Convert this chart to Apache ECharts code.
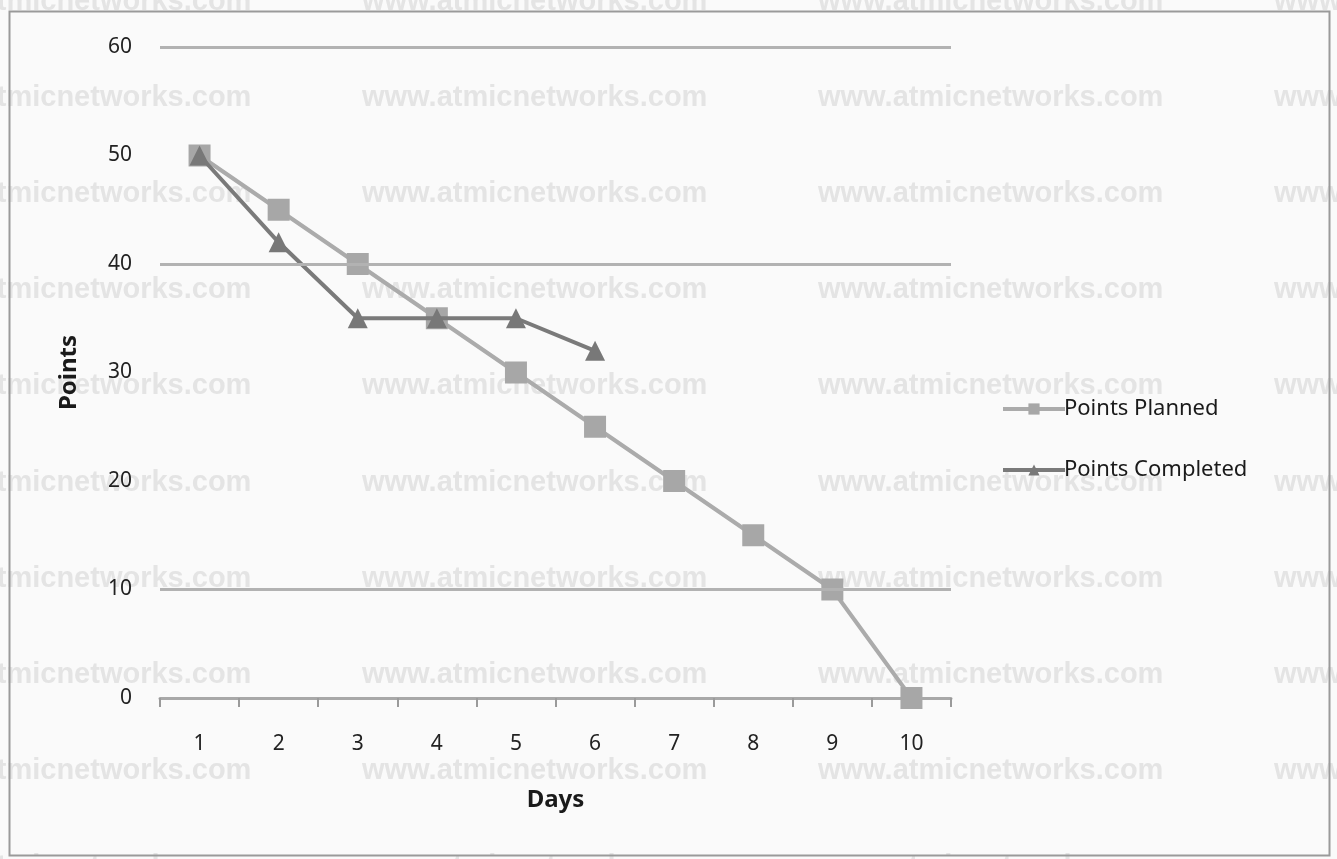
<!DOCTYPE html>
<html>
<head>
<meta charset="utf-8">
<script src="https://cdn.jsdelivr.net/npm/echarts@6/dist/echarts.min.js"></script>
<style>
html,body{margin:0;padding:0;background:#fafafa;}
#chart{width:1337px;height:859px;}
</style>
</head>
<body>
<div id="chart"></div>
<script>
const days = ['1','2','3','4','5','6','7','8','9','10'];
const pointsPlanned = [50, 45, 40, 35, 30, 25, 20, 15, 10, 0];
const pointsCompleted = [50, 42, 35, 35, 35, 32];
const gridValues = [60, 40, 10];
const yTicks = {min: 0, max: 60, interval: 10};
const watermarkText = 'www.atmicnetworks.com';

const chart = echarts.init(document.getElementById('chart'));

const wm = [];
for (let r = 0; r < 10; r++) {
  for (let c = 0; c < 4; c++) {
    wm.push({
      type: 'text', silent: true, z: 0,
      left: -94 + c * 456, top: -13 + r * 96.2,
      style: {text: watermarkText, font: 'bold 29px "Liberation Sans", Arial', fill: '#e4e4e4'}
    });
  }
}
wm.push({
  type: 'rect', silent: true, z: 1,
  shape: {x: 9.5, y: 11.5, width: 1320, height: 844},
  style: {fill: 'none', stroke: '#9a9a9a', lineWidth: 2}
});

const font = '"Noto Sans", "Open Sans", sans-serif';

chart.setOption({
  backgroundColor: '#fafafa',
  animation: false,
  graphic: wm,
  grid: {left: 160, right: 386, top: 47, bottom: 161},
  legend: {
    orient: 'vertical',
    left: 996, top: 393,
    itemWidth: 62, itemHeight: 14, itemGap: 39,
    lineStyle: {width: 4},
    textStyle: {fontFamily: font, fontSize: 22, color: '#1a1a1a', padding: [0,0,0,-6]},
    data: [
      {name: 'Points Planned'},
      {name: 'Points Completed'}
    ]
  },
  xAxis: {
    type: 'category',
    data: days,
    boundaryGap: true,
    name: 'Days',
    nameLocation: 'middle',
    nameGap: 90,
    nameTextStyle: {fontFamily: font, fontSize: 24, fontWeight: 'bold', color: '#1a1a1a'},
    axisLine: {lineStyle: {color: '#a8a8a8', width: 3}},
    axisTick: {show: true, length: 9, lineStyle: {color: '#9a9a9a', width: 2}},
    axisLabel: {fontFamily: font, fontSize: 21, color: '#222', margin: 36},
    splitLine: {show: false}
  },
  yAxis: {
    type: 'value',
    min: yTicks.min, max: yTicks.max, interval: yTicks.interval,
    name: 'Points',
    nameLocation: 'middle',
    nameGap: 79,
    nameRotate: 90,
    nameTextStyle: {fontFamily: font, fontSize: 24, fontWeight: 'bold', color: '#1a1a1a'},
    axisLine: {show: false},
    axisTick: {show: false},
    axisLabel: {fontFamily: font, fontSize: 21, color: '#222', margin: 28},
    splitLine: {show: false}
  },
  series: [
    {
      name: 'gridlines',
      type: 'line',
      data: [],
      z: 1,
      silent: true,
      markLine: {
        silent: true,
        symbol: 'none',
        label: {show: false},
        lineStyle: {color: '#b2b2b2', width: 3, type: 'solid'},
        data: gridValues.map(v => ({yAxis: v}))
      }
    },
    {
      name: 'Points Planned',
      type: 'line',
      data: pointsPlanned,
      z: 3,
      symbol: 'rect',
      symbolSize: 22,
      color: '#a7a7a7',
      itemStyle: {color: '#a7a7a7'},
      lineStyle: {color: '#ababab', width: 4}
    },
    {
      name: 'Points Completed',
      type: 'line',
      data: pointsCompleted,
      z: 4,
      symbol: 'triangle',
      symbolSize: 20,
      color: '#787878',
      itemStyle: {color: '#787878'},
      lineStyle: {color: '#7a7a7a', width: 4}
    }
  ]
});
</script>
</body>
</html>
